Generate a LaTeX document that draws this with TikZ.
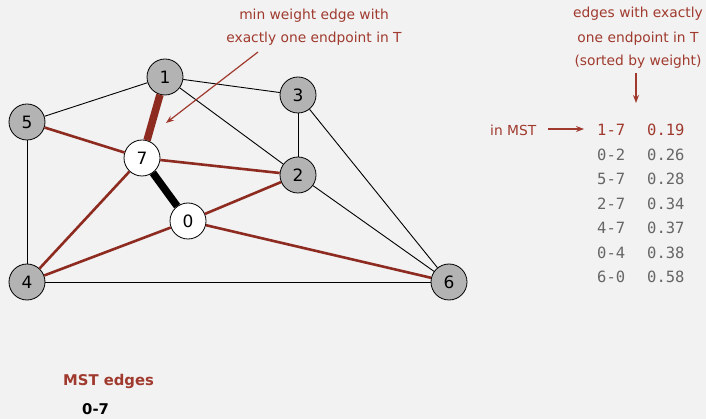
\documentclass[tikz,border=0pt]{standalone}
\usepackage{fontspec}
\setmainfont{DejaVu Sans}
\newfontfamily\monof{DejaVu Sans Mono}
\usetikzlibrary{arrows.meta}
\definecolor{bg}{HTML}{F2F2F2}
\definecolor{mstred}{HTML}{8E2B20}
\definecolor{txtred}{HTML}{A03A2E}
\definecolor{vgray}{HTML}{B3B3B3}
\definecolor{tgray}{HTML}{666666}
\tikzset{
  vtx/.style={circle, draw=black, line width=0.8pt, minimum size=36pt, inner sep=0pt, font=\fontsize{17}{19}\selectfont},
  gv/.style={vtx, fill=vgray},
  wv/.style={vtx, fill=white},
  thin edge/.style={draw=black, line width=0.9pt},
  red edge/.style={draw=mstred, line width=2.6pt},
  thick red/.style={draw=mstred, line width=7.5pt},
  thick black/.style={draw=black, line width=7.5pt},
  note/.style={text=txtred, font=\fontsize{13.8}{16}\selectfont},
  tbl/.style={font=\monof\fontsize{15.5}{17}\selectfont, anchor=west, text=tgray, inner sep=0pt},
  pointer/.style={draw=txtred, line width=1.2pt, -{Stealth[length=8pt,width=6pt]}},
}
\begin{document}
\begin{tikzpicture}[x=1pt,y=-1pt]
\fill[bg] (0,0) rectangle (706,419);
\useasboundingbox (0,0) rectangle (706,419);
% vertices
\node[gv] (n1) at (165,77) {1};
\node[gv] (n3) at (298,95) {3};
\node[gv] (n5) at (27,122) {5};
\node[wv] (n7) at (142,158) {7};
\node[gv] (n2) at (298,175) {2};
\node[wv] (n0) at (188,221) {0};
\node[gv] (n4) at (27,282) {4};
\node[gv] (n6) at (449,282) {6};
% edges
\path[thin edge] (n1) -- (n5);
\path[thin edge] (n1) -- (n3);
\path[thin edge] (n1) -- (n2);
\path[thin edge] (n3) -- (n2);
\path[thin edge] (n3) -- (n6);
\path[thin edge] (n2) -- (n6);
\path[thin edge] (n5) -- (n4);
\path[thin edge] (n4) -- (n6);
\path[red edge] (n5) -- (n7);
\path[red edge] (n7) -- (n2);
\path[red edge] (n7) -- (n4);
\path[red edge] (n0) -- (n2);
\path[red edge] (n0) -- (n4);
\path[red edge] (n0) -- (n6);
\path[thick red] (n1) -- (n7);
\path[thick black] (n7) -- (n0);
% annotation top
\node[note] (ann1) at (314,16) {min weight edge with};
\node[note] (ann2) at (314,39) {exactly one endpoint in T};
\coordinate (a1s) at (258,52);
\coordinate (a1e) at (166,123);
\draw[pointer] (a1s) -- (a1e);
% right annotation
\node[note] (r1) at (638,14) {edges with exactly};
\node[note] (r2) at (638,39) {one endpoint in T};
\node[note] (r3) at (638,62) {(sorted by weight)};
\coordinate (a2s) at (636,73);
\coordinate (a2e) at (636,103);
\draw[pointer] (a2s) -- (a2e);
\node[note, anchor=west, inner sep=0pt] (inmst) at (490,130) {in MST};
\coordinate (a3s) at (548,129);
\coordinate (a3e) at (584,129);
\draw[pointer] (a3s) -- (a3e);
% table
\node[tbl, text=txtred] (e1) at (597,130) {1-7};
\node[tbl, text=txtred] (w1) at (647,130) {0.19};
\node[tbl] (e2) at (597,154.5) {0-2};
\node[tbl] (w2) at (647,154.5) {0.26};
\node[tbl] (e3) at (597,179) {5-7};
\node[tbl] (w3) at (647,179) {0.28};
\node[tbl] (e4) at (597,203.5) {2-7};
\node[tbl] (w4) at (647,203.5) {0.34};
\node[tbl] (e5) at (597,228) {4-7};
\node[tbl] (w5) at (647,228) {0.37};
\node[tbl] (e6) at (597,252.5) {0-4};
\node[tbl] (w6) at (647,252.5) {0.38};
\node[tbl] (e7) at (597,277) {6-0};
\node[tbl] (w7) at (647,277) {0.58};
% MST edges
\node[anchor=west, inner sep=0pt, text=txtred, font=\bfseries\fontsize{14.8}{17}\selectfont] (mst) at (63,381) {MST edges};
\node[anchor=west, inner sep=0pt, font=\bfseries\fontsize{14.8}{17}\selectfont] (m07) at (82,409) {0-7};
\end{tikzpicture}
\end{document}
